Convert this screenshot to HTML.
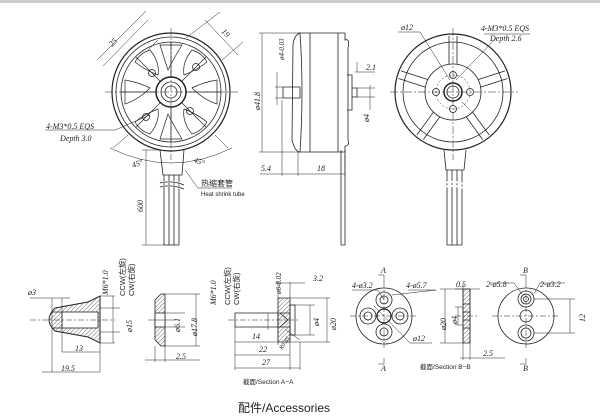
<!DOCTYPE html>
<html><head><meta charset="utf-8"><style>
html,body{margin:0;padding:0;background:#fff;width:600px;height:419px;overflow:hidden}
svg{display:block}
text{font-family:"Liberation Serif",serif;font-style:italic;fill:#222}
.s{font-family:"Liberation Sans","Noto Sans CJK SC",sans-serif;font-style:normal}
</style></head><body>
<svg width="600" height="419" viewBox="0 0 600 419" xmlns="http://www.w3.org/2000/svg">
<defs>
<pattern id="h" width="3" height="3" patternUnits="userSpaceOnUse" patternTransform="rotate(45)"><line x1="0" y1="0" x2="0" y2="3" stroke="#444" stroke-width="0.8"/></pattern>
</defs>
<rect x="0" y="0" width="600" height="3" fill="#ccc"/>
<g fill="none" stroke="#222" stroke-width="0.8">
<!-- LEFT MOTOR -->
<circle cx="171" cy="92" r="59" stroke-width="1.2"/>
<circle cx="171" cy="92" r="55"/>
<circle cx="171" cy="92" r="50"/>
<circle cx="171" cy="92" r="15" stroke-width="1.5"/>
<circle cx="171" cy="92" r="10"/>
<circle cx="171" cy="92" r="6"/>
<g stroke-width="0.7">
<path d="M171 42 L171 77 M171 107 L171 142 M121 92 L156 92 M186 92 L221 92 M136 57 L160 81 M182 103 L206 127 M206 57 L182 81 M160 103 L136 127"/>
<path d="M150 50 Q160 62 158 75 Q145 70 135 62 Q140 53 150 50Z M192 50 Q182 62 184 75 Q197 70 207 62 Q202 53 192 50Z M150 134 Q160 122 158 109 Q145 114 135 122 Q140 131 150 134Z M192 134 Q182 122 184 109 Q197 114 207 122 Q202 131 192 134Z"/>
<path d="M125 80 Q138 82 150 88 Q138 100 125 104Z M217 80 Q204 82 192 88 Q204 100 217 104Z M160 45 Q164 58 168 70 Q174 58 182 45Z M160 139 Q164 126 168 114 Q174 126 182 139Z"/>
</g>
<circle cx="152" cy="73" r="3.5"/><circle cx="196" cy="67" r="3.5"/><circle cx="146" cy="117" r="3.5"/><circle cx="190" cy="111" r="3.5"/>
<path d="M160 150 L163 175 L182 175 L184 150"/>
<path d="M164 175 L164 245 M169 175 L169 245 M174 175 L174 245 M179 175 L179 245 M164 245 L179 245"/>
<path d="M160 183 Q172 180 184 185 M160 187 Q172 184 184 189" stroke="#fff" stroke-width="2"/>
<path d="M160 183 Q172 180 184 185 M160 187 Q172 184 184 189"/>
<g stroke-width="0.5" stroke-dasharray="8 2 2 2"><path d="M105 92 L238 92 M171 28 L171 160"/></g>
<g stroke-width="0.5">
<path d="M97 60 L146 11 M148 50 L158 40 M103 66 L148 20"/>
<path d="M205 20 L238 55 M186 38 L220 12 M222 60 L243 42"/>
<path d="M113 148 L128 135 M228 148 L215 135 M110 148 Q171 178 232 148"/>
<path d="M45 130 L115 130 L150 115"/>
<path d="M146 150 L146 245 M142 150 L160 150 M142 245 L165 245"/>
<path d="M185 170 L198 188 L232 188"/>
</g>
<!-- SIDE VIEW -->
<path d="M298 33 L345 33 M298 152 L345 152" />
<path d="M300 33 Q304 90 300 152 M310 33 L310 152 M338 33 L338 152 M345 33 L345 40 Q350 38 348 48 L348 140 Q350 146 345 146 L345 152"/>
<path d="M300 33 Q294 35 293 45 L292 140 Q295 152 300 152"/>
<path d="M283 87 L300 87 L300 98 L283 98 Z"/>
<path d="M347 75 L352 75 L352 110 L347 110 M352 88 L357 88 L357 97 L352 97"/>
<path d="M345 150 L345 245 M341 150 L341 245 M341 245 L345 245"/>
<g stroke-width="0.5">
<path d="M259 33 L298 33 M259 152 L298 152 M262 33 L262 152 M275 87 L283 87 M275 98 L283 98 M277 72 L277 105"/>
<path d="M282 100 L282 176 M298 152 L298 176 M345 155 L345 176 M260 174 L282 174 M282 174 L298 174 M298 174 L345 174"/>
<path d="M355 72 L375 72 M357 72 L357 62 M370 85 L370 110 M357 88 L375 88 M357 97 L375 97"/>
</g>
<!-- RIGHT MOTOR -->
<circle cx="453" cy="92" r="58" stroke-width="1.2"/>
<circle cx="453" cy="92" r="50"/>
<circle cx="453" cy="92" r="17" stroke-dasharray="2 2" stroke-width="0.5"/>
<circle cx="453" cy="92" r="28"/>
<g stroke-width="0.8">
<path d="M449 64 L449 36 M457 64 L457 36"/>
<path d="M480.8 87.1 L507.5 78.5 M478.4 79.5 L505.1 70.9"/>
<path d="M466.3 117 L482.7 139.6 M472.7 112.3 L489.1 134.9"/>
<path d="M433.3 112.3 L416.9 134.9 M439.7 117 L423.3 139.6"/>
<path d="M427.6 79.5 L400.9 70.9 M425.2 87.1 L398.5 78.5"/>
</g>
<circle cx="453" cy="92" r="9" stroke-width="1.5"/><circle cx="453" cy="92" r="6"/>
<circle cx="453" cy="75" r="3.5"/><circle cx="453" cy="109" r="3.5"/><circle cx="436" cy="92" r="3.5"/><circle cx="470" cy="92" r="3.5"/>
<path d="M444 150 L446 170 L464 170 L466 150"/>
<path d="M447 170 L447 245 M452 170 L452 245 M457 170 L457 245 M462 170 L462 245 M447 245 L462 245"/>
<path d="M444 183 Q455 180 466 185 M444 187 Q455 184 466 189" stroke="#fff" stroke-width="2"/>
<g stroke-width="0.5" stroke-dasharray="8 2 2 2"><path d="M390 92 L518 92 M453 28 L453 160"/></g>
<g stroke-width="0.5"><path d="M398 32 L420 32 L450 80 M484 34 L530 34 M496 38 L456 80 M462 102 L470 110"/></g>
<!-- BULLET NUT -->
<path d="M55 308 L88 302 L100 296 L100 343 L88 337 L55 331 Q43 320 55 308Z" fill="url(#h)" stroke-width="1"/>
<rect x="62" y="312" width="36" height="16" fill="#fff" stroke-width="0.8"/>
<path d="M52 312 L62 312 M52 328 L62 328"/>
<g stroke-width="0.5">
<path d="M30 320 L115 320" stroke-dasharray="6 2 2 2"/>
<path d="M52 298 L52 372 M62 298 L62 352 M100 340 L100 372 M42 372 L100 372 M62 352 L100 352 M30 298 L70 298"/>
<path d="M100 296 L115 296 M100 343 L115 343 M113 296 L113 343 M100 308 L120 308 M100 332 L120 332"/>
</g>
<!-- WASHER -->
<path d="M155 300 L161 294 L165 294 L165 346 L161 346 L155 340 Z" fill="url(#h)"/>
<rect x="155" y="313" width="10" height="14" fill="#fff"/>
<g stroke-width="0.5"><path d="M148 320 L175 320 M165 294 L200 294 M165 346 L200 346 M196 294 L196 346 M165 313 L185 313 M165 327 L185 327 M155 346 L155 362 M165 346 L165 362 M145 360 L200 360"/></g>
<!-- BOLT -->
<path d="M235 313 L278 313 L278 327 L235 327 Z"/>
<path d="M278 298 L290 298 L290 342 L278 342 Z" fill="url(#h)"/>
<path d="M278 313 L290 313 L290 327 L278 327 M280 313 L288 320 L280 327"/>
<path d="M290 305 L295 305 L295 335 L290 335 Z"/>
<g stroke-width="0.5">
<path d="M228 320 L300 320" stroke-dasharray="6 2 2 2"/>
<path d="M235 327 L235 370 M278 330 L278 345 M290 342 L290 370 M235 342 L278 342 M235 355 L290 355 M235 368 L300 368 M300 342 L300 370"/>
<path d="M278 298 L278 282 M290 298 L290 282 M275 283 L305 283 M290 305 L315 305 M290 335 L315 335 M310 305 L310 335 M290 298 L330 298 M290 342 L330 342 M327 298 L327 342 M268 313 L268 330 M286 330 L300 340"/>
</g>
<!-- A-A plate -->
<circle cx="384" cy="316" r="28"/>
<circle cx="384" cy="300" r="8"/><circle cx="384" cy="300" r="4"/>
<circle cx="384" cy="332" r="8"/><circle cx="384" cy="332" r="4"/>
<circle cx="368" cy="316" r="8"/><circle cx="368" cy="316" r="4"/>
<circle cx="400" cy="316" r="8"/><circle cx="400" cy="316" r="4"/>
<circle cx="384" cy="316" r="7" stroke-width="1.2"/>
<g stroke-width="0.5"><path d="M350 316 L418 316 M384 282 L384 350" stroke-dasharray="6 2 2 2"/>
<path d="M384 282 L384 275 L378 275 M384 358 L384 364 L378 364 M352 290 L378 290 L384 300 M408 290 L436 290 L392 295 M374 306 L410 343 L432 343"/></g>
<!-- B-B section -->
<path d="M463 289 L470 289 L470 343 L463 343 Z" fill="url(#h)"/>
<path d="M463 304 L470 304 M463 312 L470 312 M463 320 L470 320 M463 328 L470 328"/>
<g stroke-width="0.5"><path d="M455 316 L478 316" stroke-dasharray="6 2 2 2"/>
<path d="M463 289 L440 289 M463 343 L440 343 M445 289 L445 343 M463 307 L455 307 M463 325 L455 325 M458 307 L458 325 M463 284 L463 360 M470 289 L470 360 M460 358 L505 358 M455 289 L480 289"/></g>
<!-- B-B plate -->
<circle cx="526" cy="316" r="28"/>
<circle cx="526" cy="299" r="8"/><circle cx="526" cy="299" r="5"/><circle cx="526" cy="299" r="2.5"/>
<circle cx="526" cy="316" r="6"/>
<circle cx="526" cy="333" r="8"/><circle cx="526" cy="333" r="5"/>
<g stroke-width="0.5"><path d="M492 316 L560 316 M526 282 L526 350" stroke-dasharray="6 2 2 2"/>
<path d="M526 282 L526 275 L520 275 M526 358 L526 364 L520 364 M490 283 L514 283 L522 294 M534 294 L540 283 L565 283 M534 299 L575 299 M534 333 L575 333 M570 299 L570 333"/></g>
</g>
<!-- TEXT -->
<g font-size="8">
<text transform="translate(112,47) rotate(-45)">25</text>
<text transform="translate(221,32) rotate(45)">19</text>
<text x="46" y="129">4-M3*0.5 EQS</text>
<text x="60" y="141">Depth 3.0</text>
<text transform="translate(133,168) rotate(-20)">45°</text>
<text transform="translate(193,162) rotate(20)">45°</text>
<text transform="translate(143,212) rotate(-90)">600</text>
<text transform="translate(260,110) rotate(-90)">ø41.8</text>
<text transform="translate(284,60) rotate(-90)" font-size="7">ø4-0.03</text>
<text x="261" y="171">5.4</text>
<text x="317" y="171">18</text>
<text x="366" y="70">2.1</text>
<text transform="translate(369,122) rotate(-90)">ø4</text>
<text x="401" y="30">ø12</text>
<text x="481" y="31">4-M3*0.5 EQS</text>
<text x="490" y="41">Depth 2.6</text>
<text x="28" y="295">ø3</text>
<text x="75" y="351">13</text>
<text x="61" y="371">19.5</text>
<text transform="translate(108,295) rotate(-90)">M6*1.0</text>
<text transform="translate(132,332) rotate(-90)">ø15</text>
<text transform="translate(180,332) rotate(-90)">ø6.1</text>
<text transform="translate(197,336) rotate(-90)">ø17.8</text>
<text x="176" y="359">2.5</text>
<text transform="translate(216,305) rotate(-90)">M6*1.0</text>
<text x="252" y="339">14</text>
<text x="259" y="352">22</text>
<text x="262" y="365">27</text>
<text transform="translate(281,294) rotate(-90)" font-size="7">ø6-0.02</text>
<text transform="translate(282,350) rotate(-55)" font-size="6">R0.35</text>
<text x="313" y="281">3.2</text>
<text transform="translate(319,326) rotate(-90)">ø4</text>
<text transform="translate(336,330) rotate(-90)">ø20</text>
<text x="381" y="273">A</text>
<text x="381" y="371">A</text>
<text x="352" y="288">4-ø3.2</text>
<text x="406" y="288">4-ø5.7</text>
<text x="413" y="341">ø12</text>
<text x="456" y="287">0.5</text>
<text transform="translate(446,330) rotate(-90)">ø20</text>
<text transform="translate(457,324) rotate(-90)">ø4</text>
<text x="483" y="356">2.5</text>
<text x="523" y="273">B</text>
<text x="523" y="371">B</text>
<text x="486" y="287">2-ø5.8</text>
<text x="540" y="287">2-ø3.2</text>
<text transform="translate(585,322) rotate(-90)">12</text>
</g>
<g class="s">
<text class="s" transform="translate(125,296) rotate(-90)" font-size="7.5">CCW(左旋)</text>
<text class="s" transform="translate(134,296) rotate(-90)" font-size="7.5">CW(右旋)</text>
<text class="s" transform="translate(230,305) rotate(-90)" font-size="7.5">CCW(左旋)</text>
<text class="s" transform="translate(239,305) rotate(-90)" font-size="7.5">CW(右旋)</text>
<text class="s" x="201" y="186" font-size="8">热缩套管</text>
<text class="s" x="201" y="196" font-size="6">Heat shrink tube</text>
<text class="s" x="243" y="384" font-size="6.5" fill="#555">截面/Section A−A</text>
<text class="s" x="420" y="369" font-size="6.5" fill="#555">截面/Section B−B</text>
<text class="s" x="238" y="412" font-size="12" fill="#111">配件/Accessories</text>
</g>
</svg>
</body></html>
